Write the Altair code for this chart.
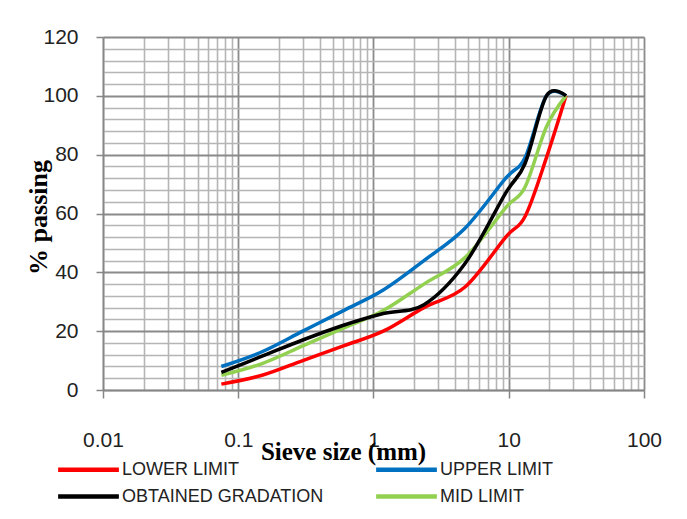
import altair as alt
import pandas as pd

# Sieve sizes (mm) and % passing for each curve
sieve = [0.075, 0.15, 0.3, 0.6, 1.18, 2.36, 4.75, 9.5, 13.2, 19, 26.5]
lower = [2, 5, 10, 15, 20, 28, 35, 52, 59, 79, 100]
upper = [8, 13, 20, 27, 34, 44, 55, 72, 79, 100, 100]
mid = [5, 9, 15, 21, 27, 36, 45, 62, 69, 89.5, 100]
obtained = [6, 11.5, 17, 22, 26, 29, 43, 67, 77, 100, 100]

# legend entries (laid out column by column)
series_names = ["LOWER LIMIT", "OBTAINED GRADATION", "UPPER LIMIT", "MID LIMIT"]
series_colors = ["#FF0000", "#000000", "#0070C0", "#92D050"]

# drawing order (last on top)
draw_order = [("UPPER LIMIT", upper), ("LOWER LIMIT", lower),
              ("MID LIMIT", mid), ("OBTAINED GRADATION", obtained)]
rows = []
for name, vals in draw_order:
    for s, v in zip(sieve, vals):
        rows.append({"sieve": s, "passing": v, "series": name})
df = pd.DataFrame(rows)

x_values = []
for d in [0.01, 0.1, 1, 10]:
    for k in range(1, 10):
        x_values.append(round(d * k, 6))
x_values.append(100)
y_values = list(range(0, 121, 4))

is_decade = "abs(log(datum.value)/LN10 - round(log(datum.value)/LN10)) < 0.001"
is_major_y = "datum.value % 20 === 0"

sans = "Liberation Sans, Arial, sans-serif"
serif = "Liberation Serif, Times New Roman, serif"

x_axis = alt.Axis(
    values=x_values,
    format="~g",
    labelExpr=f"({is_decade}) ? datum.label : ''",
    labelOverlap=False,
    labelFlush=False,
    labelFont=sans,
    labelFontSize=21,
    labelColor="#222222",
    labelPadding=31,
    labelBaseline="top",
    tickSize=8,
    tickColor={"condition": {"test": is_decade, "value": "#868686"}, "value": "transparent"},
    tickWidth=1.5,
    domainColor="#868686",
    domainWidth=1.5,
    grid=True,
    gridColor={"condition": {"test": is_decade, "value": "#8a8a8a"}, "value": "#b5b5b5"},
    gridWidth={"condition": {"test": is_decade, "value": 1.8}, "value": 1.6},
    title="Sieve size (mm)",
    titleFont=serif,
    titleFontWeight="bold",
    titleFontSize=25,
    titleColor="#000000",
    titleX=240,
    titleY=61,
    titleAlign="center",
    titleBaseline="middle",
)

y_axis = alt.Axis(
    values=y_values,
    labelExpr=f"({is_major_y}) ? datum.label : ''",
    labelOverlap=False,
    labelFlush=False,
    labelFont=sans,
    labelFontSize=21,
    labelColor="#222222",
    labelPadding=18,
    tickSize=7,
    tickColor={"condition": {"test": is_major_y, "value": "#868686"}, "value": "transparent"},
    tickWidth=1.5,
    domainColor="#868686",
    domainWidth=1.5,
    grid=True,
    gridColor={"condition": {"test": is_major_y, "value": "#8a8a8a"}, "value": "#b5b5b5"},
    gridWidth={"condition": {"test": is_major_y, "value": 1.8}, "value": 1.6},
    title="% passing",
    titleFont=serif,
    titleFontWeight="bold",
    titleFontSize=26,
    titleColor="#000000",
    titleX=-65,
    titleY=180,
    titleAlign="center",
    titleBaseline="middle",
    titleAngle=270,
)

legend = alt.Legend(
    title=None,
    orient="none",
    legendX=-32,
    legendY=415,
    padding=0,
    columns=2,
    columnPadding=43,
    rowPadding=0,
    symbolType="M-2,0L2,0",
    symbolSize=923,
    symbolStrokeWidth=4.5,
    symbolFillColor="transparent",
    labelFont=sans,
    labelFontSize=18,
    labelColor="#222222",
    labelOffset=16,
    labelLimit=400,
)

chart = alt.Chart(df).mark_line(
    interpolate="cardinal", strokeWidth=3.5
).encode(
    x=alt.X("sieve:Q", scale=alt.Scale(type="log", domain=[0.01, 100], nice=False), axis=x_axis),
    y=alt.Y("passing:Q", scale=alt.Scale(domain=[0, 120], nice=False), axis=y_axis),
    color=alt.Color("series:N",
                    scale=alt.Scale(domain=series_names, range=series_colors),
                    legend=legend),
    detail="series:N",
).properties(
    width=541,
    height=353,
    autosize=alt.AutoSizeParams(type="none"),
    padding={"left": 95, "top": 29, "right": 35, "bottom": 121},
    background="white",
).configure_view(
    stroke="transparent"
)

chart.save("out.html", embed_options={"renderer": "svg", "actions": False})
